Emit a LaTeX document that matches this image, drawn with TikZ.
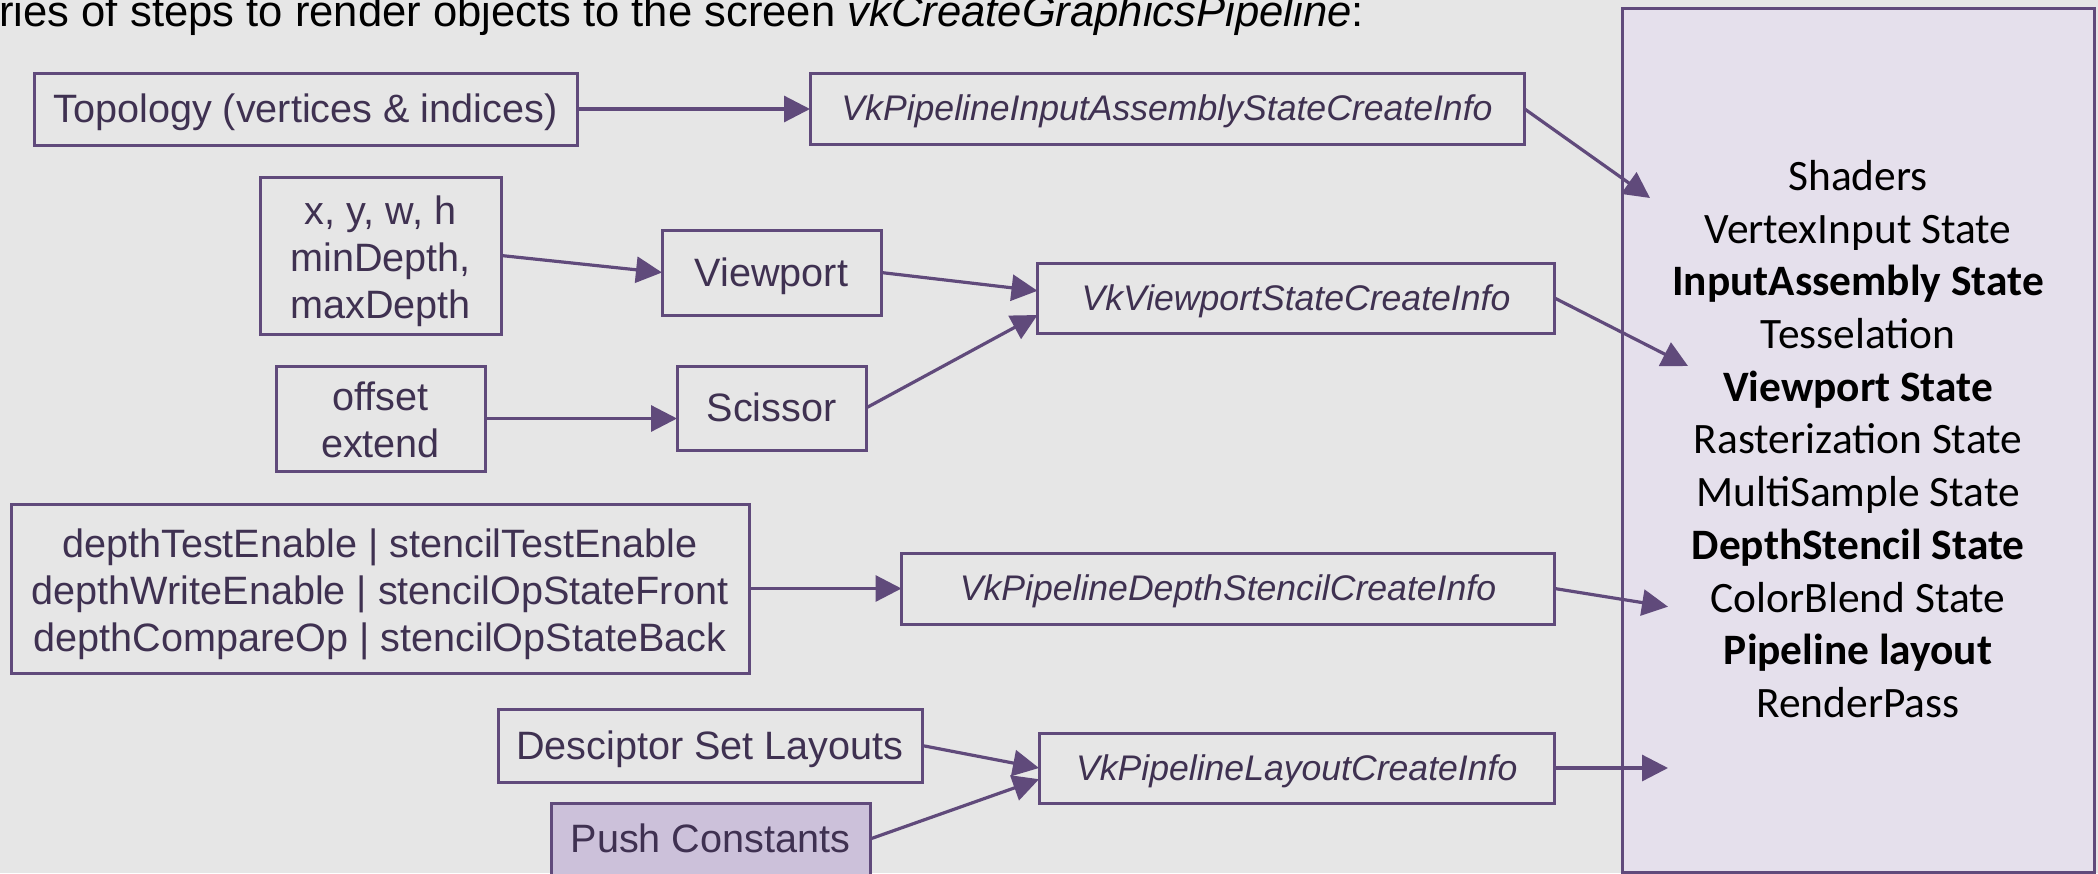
\documentclass[tikz,border=0pt]{standalone}
\usepackage{fontspec}
\setmainfont{Liberation Sans}
\newfontfamily\calib{Carlito}
\usetikzlibrary{arrows.meta}
\definecolor{bg}{HTML}{E6E6E6}
\definecolor{vio}{HTML}{604A7B}
\definecolor{vtext}{HTML}{3F3151}
\definecolor{lav}{HTML}{E5E0EC}
\definecolor{lilac}{HTML}{CCC1DA}
% line box of the font: ascent 0.905em, descent 0.212em
\newcommand\linestrut{\rule[-0.212em]{0pt}{1.117em}}
% first line of a stacked label, with extra room above it
\newcommand\topstrut{\rule[-0.212em]{0pt}{\dimexpr1.117em+2pt\relax}}

\begin{document}
\begin{tikzpicture}[x=0.5pt,y=-0.5pt,
  box/.style={draw=vio, line width=1.5pt, rectangle, inner sep=0pt, outer sep=0pt,
    text=vtext, align=center, font=\fontsize{19.8}{24.2}\selectfont,
    execute at begin node=\linestrut, execute at end node=\linestrut},
  stack/.style={draw=vio, line width=1.5pt, rectangle, inner sep=0pt, outer sep=0pt,
    text=vtext, align=center, font=\fontsize{19.8}{23.5}\selectfont},
  info/.style={box, font=\fontsize{17.8}{21}\selectfont\itshape},
  conn/.style={draw=vio, line width=1.6pt, -{Triangle[length=13pt,width=13pt]}},
]
\useasboundingbox (0,0) rectangle (2098,873);
\fill[bg] (0,0) rectangle (2098,873);

% heading
\node[anchor=base west, inner sep=0pt, font=\fontsize{21.8}{26}\selectfont] (title) at (-1,26.7)
  {ries of steps to render objects to the screen \textit{vkCreateGraphicsPipeline}:};

% pipeline state summary
\node[draw=vio, fill=lav, line width=1.5pt, inner sep=0pt, outer sep=0pt,
  minimum width=236pt, minimum height=432pt] (pipe) at (1858,440) {};
\node[align=center, inner sep=0pt, font=\calib\fontsize{21.7}{26.35}\selectfont] (states) at (1858,439)
  {Shaders\\VertexInput State\\\textbf{InputAssembly State}\\Tesselation\\\textbf{Viewport State}\\
   Rasterization State\\MultiSample State\\\textbf{DepthStencil State}\\ColorBlend State\\
   \textbf{Pipeline layout}\\RenderPass};

% inputs and create-info structures
\node[box, minimum width=271.5pt, minimum height=36pt] (topo) at (305.5,109) {Topology (vertices \& indices)};
\node[info, minimum width=357pt, minimum height=35.5pt] (pia) at (1167,108.5) {VkPipelineInputAssemblyStateCreateInfo};
\node[stack, minimum width=120.5pt, minimum height=78.5pt] (xywh) at (380.5,255.5)
  {\topstrut x, y, w, h\\minDepth,\\maxDepth\linestrut};
\node[box, minimum width=109.5pt, minimum height=42.5pt] (vp) at (771.5,272.5) {Viewport};
\node[info, minimum width=258.5pt, minimum height=35pt] (vps) at (1296,298) {VkViewportStateCreateInfo};
\node[stack, minimum width=104.5pt, minimum height=52.5pt] (off) at (380.5,418.5)
  {\topstrut offset\\extend\linestrut};
\node[box, minimum width=94.5pt, minimum height=42pt] (sc) at (771.5,408) {Scissor};
\node[stack, minimum width=369pt, minimum height=84.5pt] (dst) at (380,588.5)
  {\topstrut depthTestEnable | stencilTestEnable\\depthWriteEnable | stencilOpStateFront\\
   depthCompareOp | stencilOpStateBack\linestrut};
\node[info, minimum width=326.5pt, minimum height=35.5pt] (pds) at (1228,588.5) {VkPipelineDepthStencilCreateInfo};
\node[box, minimum width=212pt, minimum height=36.5pt] (dsl) at (710,745.5) {Desciptor Set Layouts};
\node[box, fill=lilac, minimum width=159.5pt, minimum height=36pt] (pc) at (710.5,839) {Push Constants};
\node[info, minimum width=257.75pt, minimum height=35pt] (pl) at (1296.75,768) {VkPipelineLayoutCreateInfo};

% arrow tips inside the summary box
\coordinate (inA) at (1650,198);
\coordinate (inB) at (1688,366);
\coordinate (inC) at (1668,606.7);
\coordinate (inD) at (1668,768);

% connectors
\draw[conn] (topo.east) -- (topo.east -| pia.west);
\draw[conn] (xywh.east) -- (vp.west);
\draw[conn] (vp.east) -- ([yshift=3.6pt]vps.west);
\draw[conn] (sc.east) -- ([yshift=-8.5pt]vps.west);
\draw[conn] (off.east) -- (off.east -| sc.west);
\draw[conn] (dst.east) -- (pds.west);
\draw[conn] (dsl.east) -- (pl.west);
\draw[conn] (pc.east) -- ([yshift=-5.6pt]pl.west);
\draw[conn] (pia.east) -- (inA);
\draw[conn] (vps.east) -- (inB);
\draw[conn] (pds.east) -- (inC);
\draw[conn] (pl.east) -- (inD);
\end{tikzpicture}
\end{document}
